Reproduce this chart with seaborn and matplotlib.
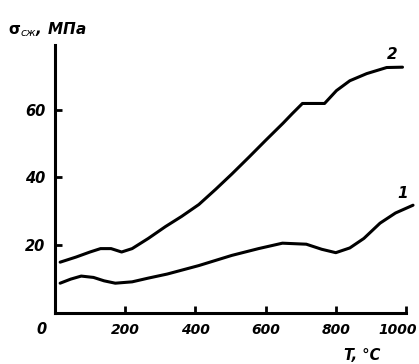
import matplotlib
matplotlib.use("Agg")
import matplotlib.pyplot as plt
import matplotlib.transforms as mtransforms
import seaborn as sns

# curve 1 (lower) and curve 2 (upper)
t1 = [15, 45, 75, 110, 140, 172, 220, 266, 320, 410, 504, 580, 648, 716, 760, 800, 840, 880, 926, 970, 1020]
s1 = [8.8, 10, 10.9, 10.5, 9.5, 8.8, 9.2, 10.3, 11.5, 14, 17, 19, 20.6, 20.3, 18.8, 17.8, 19.2, 22, 26.5, 29.5, 31.8]
t2 = [15, 60, 100, 130, 160, 190, 220, 266, 315, 361, 410, 458, 504, 553, 601, 650, 676, 705, 768, 802, 840, 888, 945, 990]
s2 = [15, 16.5, 18, 19, 19, 18, 19, 22, 25.5, 28.5, 32, 36.5, 41, 46, 51, 56, 58.8, 61.8, 61.8, 65.6, 68.5, 70.6, 72.4, 72.5]
x_ticks = [200, 400, 600, 800, 1000]
y_ticks = [20, 40, 60]

sns.set_style("ticks")
plt.rcParams['font.family'] = ['DejaVu Sans']
plt.rcParams['text.color'] = 'black'
plt.rcParams['xtick.color'] = 'black'
plt.rcParams['ytick.color'] = 'black'

fig = plt.figure(figsize=(4.19, 3.64), dpi=100)
ax = fig.add_axes([0.131, 0.14, 0.838, 0.736])

for t, s in [(t1, s1), (t2, s2)]:
    sns.lineplot(x=t, y=s, ax=ax, color="black", linewidth=2.2, clip_on=False)

ax.set_xlim(0, 1000)
ax.set_ylim(0, 79)
ax.set_xticks(x_ticks)
ax.set_yticks(y_ticks)
ax.set_xticklabels([str(v) for v in x_ticks], fontsize=10, fontstyle="italic", fontweight="bold")
ax.set_yticklabels([str(v) for v in y_ticks], fontsize=10.5, fontstyle="italic", fontweight="bold")
ax.tick_params(direction="in", length=5, width=2, pad=7, color="black", labelcolor="black")
ax.set_xlabel("")
ax.set_ylabel("")
sns.despine(ax=ax)
for side in ["left", "bottom"]:
    ax.spines[side].set_linewidth(2.2)
    ax.spines[side].set_color("black")

# the last label sits a little left of its tick, as in the scan
last = ax.get_xticklabels()[-1]
last.set_transform(last.get_transform() + mtransforms.ScaledTranslation(-0.08, 0, fig.dpi_scale_trans))

ax.text(975, 34, "1", fontsize=11, fontstyle="italic", fontweight="bold")
ax.text(945, 75, "2", fontsize=11, fontstyle="italic", fontweight="bold")

fig.text(8 / 419, 1 - 30 / 364, r"$\mathbf{\sigma}_{сж}$, МПа", fontsize=11,
         fontstyle="italic", fontweight="bold", va="center")
fig.text(362 / 419, 1 - 355 / 364, "T, °C", fontsize=10.5, fontstyle="italic",
         fontweight="bold", ha="center", va="center")
fig.text(42 / 419, 1 - 330 / 364, "0", fontsize=10.5, fontstyle="italic",
         fontweight="bold", ha="center", va="center")

fig.savefig("out.png", dpi=100)
